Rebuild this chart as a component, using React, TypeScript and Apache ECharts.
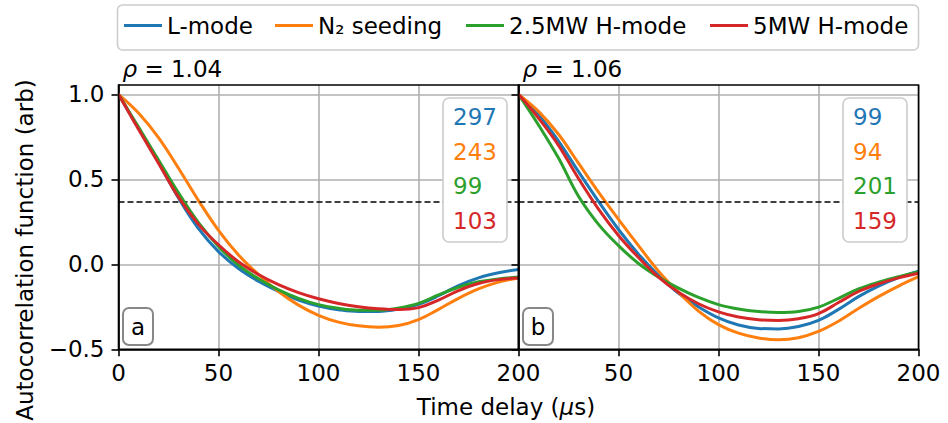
import React, { useEffect, useRef } from "react";
import * as echarts from "echarts";

// ---- data ----
const delays = [0, 10, 20, 30, 40, 50, 60, 70, 80, 90, 100, 110, 120, 130, 140, 150, 160, 170, 180, 190, 200];
const seriesNames = ["L-mode", "N\u2082 seeding", "2.5MW H-mode", "5MW H-mode"];
const colors = ["#1f77b4", "#ff7f0e", "#2ca02c", "#d62728"];

// panel a: rho = 1.04
const leftLmode = [1.0, 0.8, 0.6, 0.39, 0.21, 0.075, -0.025, -0.1, -0.16, -0.21, -0.245, -0.267, -0.278, -0.277, -0.263, -0.235, -0.185, -0.125, -0.08, -0.05, -0.03];
const leftN2 = [1.0, 0.89, 0.745, 0.565, 0.375, 0.2, 0.055, -0.06, -0.16, -0.24, -0.3, -0.34, -0.362, -0.37, -0.36, -0.325, -0.265, -0.2, -0.145, -0.105, -0.08];
const leftH25 = [1.0, 0.807, 0.614, 0.42, 0.245, 0.105, -0.005, -0.085, -0.15, -0.2, -0.237, -0.259, -0.27, -0.27, -0.257, -0.23, -0.18, -0.135, -0.103, -0.086, -0.075];
const leftH5 = [1.0, 0.795, 0.595, 0.395, 0.235, 0.115, 0.015, -0.06, -0.12, -0.167, -0.203, -0.23, -0.249, -0.261, -0.266, -0.255, -0.21, -0.155, -0.113, -0.09, -0.08];

// panel b: rho = 1.06
const rightLmode = [1.0, 0.88, 0.725, 0.545, 0.37, 0.205, 0.06, -0.065, -0.17, -0.25, -0.315, -0.357, -0.377, -0.38, -0.366, -0.33, -0.265, -0.19, -0.128, -0.078, -0.04];
const rightN2 = [1.0, 0.9, 0.765, 0.595, 0.425, 0.265, 0.11, -0.04, -0.165, -0.275, -0.355, -0.405, -0.433, -0.444, -0.432, -0.395, -0.335, -0.26, -0.19, -0.128, -0.073];
const rightH25 = [1.0, 0.82, 0.625, 0.4, 0.235, 0.11, 0.005, -0.075, -0.14, -0.195, -0.237, -0.263, -0.278, -0.284, -0.278, -0.252, -0.2, -0.145, -0.105, -0.073, -0.045];
const rightH5 = [1.0, 0.86, 0.7, 0.505, 0.325, 0.17, 0.04, -0.075, -0.165, -0.232, -0.28, -0.31, -0.326, -0.33, -0.32, -0.29, -0.225, -0.16, -0.115, -0.08, -0.053];

const tauLeft = [297, 243, 99, 103];
const tauRight = [99, 94, 201, 159];
const panelRho = ["1.04", "1.06"];
const panelTags = ["a", "b"];
const yTicks = [-0.5, 0, 0.5, 1.0];
const threshold = 1 / Math.E;

// ---- layout ----
const FONT = "DejaVu Sans";
const FS = 23;
const G_LEFT = 118.5;
const G_W = 400;
const G_TOP = 85;
const G_H = 264.3;
const LINE_W = 1.6;

const fmtY = (v: number) => (v < 0 ? "\u2212" + Math.abs(v).toFixed(1) : v.toFixed(1));

export default function App() {
  const ref = useRef<HTMLDivElement>(null);
  useEffect(() => {
    if (!ref.current) return;
    const chart = echarts.init(ref.current, null, { renderer: "svg" });
    const panels = [
      [leftLmode, leftN2, leftH25, leftH5],
      [rightLmode, rightN2, rightH25, rightH5],
    ];
    const taus = [tauLeft, tauRight];

    const series: any[] = [];
    panels.forEach((pdata, p) => {
      pdata.forEach((vals, k) => {
        series.push({
          type: "line",
          name: seriesNames[k],
          xAxisIndex: p,
          yAxisIndex: p,
          data: delays.map((t, i) => [t, vals[i]]),
          symbol: "none",
          smooth: 0.4,
          lineStyle: { color: colors[k], width: 3 },
          itemStyle: { color: colors[k] },
          z: 3 + k,
          markLine:
            k === 0
              ? {
                  silent: true,
                  symbol: "none",
                  label: { show: false },
                  lineStyle: { color: "#000", type: [6, 3], width: 1.6 },
                  data: [{ yAxis: threshold }],
                }
              : undefined,
        });
      });
    });

    const graphic: any[] = [];
    // legend frame
    graphic.push({
      type: "rect",
      shape: { x: 117.5, y: 5, width: 801, height: 45, r: 5 },
      style: { fill: "#fff", stroke: "#cccccc", lineWidth: LINE_W },
      z: 0,
    });
    [0, 1].forEach((p) => {
      const gx = G_LEFT + p * G_W;
      graphic.push({
        type: "rect",
        shape: { x: gx, y: G_TOP, width: G_W, height: G_H },
        style: { fill: "none", stroke: "#000", lineWidth: LINE_W },
        z: 20,
      });
      graphic.push({
        type: "text",
        x: gx + 4,
        y: 69,
        z: 20,
        style: {
          text: "{i|\u03c1}{n| = " + panelRho[p] + "}",
          verticalAlign: "middle",
          align: "left",
          rich: {
            i: { fontFamily: FONT, fontSize: FS, fontStyle: "italic", fill: "#000" },
            n: { fontFamily: FONT, fontSize: FS, fill: "#000" },
          },
        },
      });
      graphic.push({
        type: "rect",
        shape: { x: gx + 324.5, y: 98, width: 64, height: 144, r: 6 },
        style: { fill: "#fff", stroke: "#cccccc", lineWidth: LINE_W },
        z: 21,
      });
      taus[p].forEach((v, k) => {
        graphic.push({
          type: "text",
          x: gx + 334.5,
          y: 117 + k * 34.5,
          z: 22,
          style: {
            text: String(v),
            fill: colors[k],
            fontFamily: FONT,
            fontSize: FS,
            align: "left",
            verticalAlign: "middle",
          },
        });
      });
      graphic.push({
        type: "rect",
        shape: { x: gx + 4.5, y: 308, width: 30, height: 37, r: 6 },
        style: { fill: "#fff", stroke: "#888888", lineWidth: 2 },
        z: 21,
      });
      graphic.push({
        type: "text",
        x: gx + 19.5,
        y: 326.5,
        z: 22,
        style: {
          text: panelTags[p],
          fill: "#000",
          fontFamily: FONT,
          fontSize: FS,
          align: "center",
          verticalAlign: "middle",
        },
      });
    });
    graphic.push({
      type: "text",
      x: 506,
      y: 407,
      z: 20,
      style: {
        text: "{n|Time delay (}{i|\u03bc}{n|s)}",
        align: "center",
        verticalAlign: "middle",
        rich: {
          i: { fontFamily: FONT, fontSize: FS, fontStyle: "italic", fill: "#000" },
          n: { fontFamily: FONT, fontSize: FS, fill: "#000" },
        },
      },
    });
    graphic.push({
      type: "text",
      x: 25,
      y: 250,
      rotation: Math.PI / 2,
      z: 20,
      style: {
        text: "Autocorrelation function (arb)",
        fill: "#000",
        fontFamily: FONT,
        fontSize: FS,
        align: "center",
        verticalAlign: "middle",
      },
    });

    const legendLefts = [124, 275, 466, 710];

    chart.setOption({
      animation: false,
      backgroundColor: "#fff",
      grid: [0, 1].map((p) => ({
        left: G_LEFT + p * G_W,
        top: G_TOP,
        width: G_W,
        height: G_H,
        show: false,
      })),
      xAxis: [0, 1].map((p) => ({
        type: "value",
        gridIndex: p,
        min: 0,
        max: 200,
        interval: 50,
        axisLine: { show: true, onZero: false, lineStyle: { color: "#000", width: LINE_W } },
        axisTick: { show: true, inside: false, length: 7, lineStyle: { color: "#000", width: LINE_W } },
        axisLabel: {
          fontFamily: FONT,
          fontSize: FS,
          color: "#000",
          margin: 12,
          showMinLabel: p === 0,
        },
        splitLine: { show: true, lineStyle: { color: "#b0b0b0", width: LINE_W } },
      })),
      yAxis: [0, 1].map((p) => ({
        type: "value",
        gridIndex: p,
        min: -0.5,
        max: 1.055,
        interval: 0.5,
        axisLine: { show: true, onZero: false, lineStyle: { color: "#000", width: LINE_W } },
        axisTick: {
          show: true,
          inside: false,
          length: 7,
          customValues: yTicks,
          lineStyle: { color: "#000", width: LINE_W },
        },
        axisLabel: {
          show: p === 0,
          customValues: yTicks,
          formatter: (v: number) => fmtY(v),
          fontFamily: FONT,
          fontSize: FS,
          color: "#000",
          margin: 14,
        },
        splitLine: { show: true, lineStyle: { color: "#b0b0b0", width: LINE_W } },
      })),
      legend: seriesNames.map((name, i) => ({
        data: [name],
        left: legendLefts[i],
        top: 14,
        icon: "rect",
        itemWidth: 38,
        itemHeight: 3,
        padding: 0,
        selectedMode: false,
        textStyle: { fontFamily: FONT, fontSize: FS, color: "#000" },
      })),
      graphic,
      series,
    });
    return () => chart.dispose();
  }, []);
  return <div ref={ref} style={{ width: 948, height: 423, position: "absolute", left: 0, top: 0 }} />;
}
